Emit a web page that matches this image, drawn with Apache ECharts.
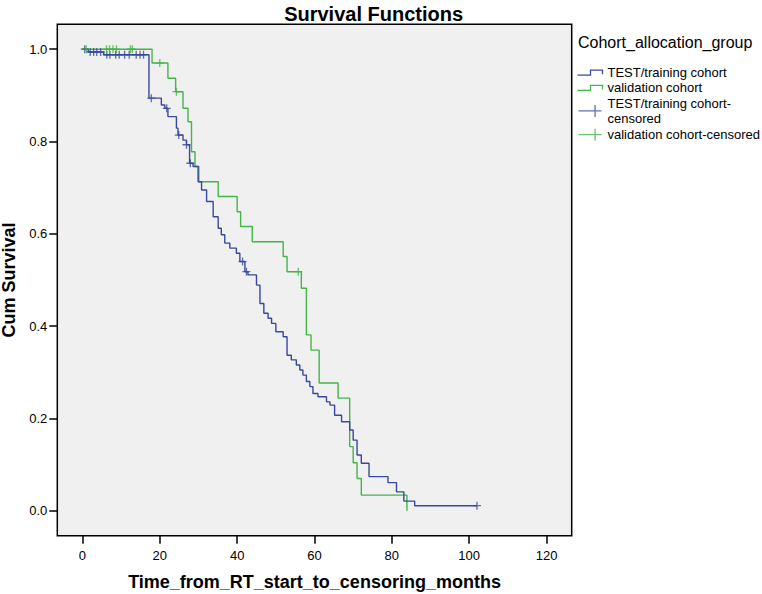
<!DOCTYPE html>
<html><head><meta charset="utf-8">
<script src="https://cdn.jsdelivr.net/npm/echarts@6/dist/echarts.min.js"></script>
<style>html,body{margin:0;padding:0;background:#fff}#c{width:762px;height:594px}</style>
</head><body><div id="c"></div>
<script>
// ---- data ----
const chartTitle = 'Survival Functions';
const legendTitle = 'Cohort_allocation_group';
const seriesNames = ['TEST/training cohort', 'validation cohort', 'TEST/training cohort-censored', 'validation cohort-censored'];
const xTicks = [0, 20, 40, 60, 80, 100, 120];
const yTicks = [0.0, 0.2, 0.4, 0.6, 0.8, 1.0];

const trainTimes = [0, 1.5, 5.5, 17.2, 20.4, 21.3, 22.1, 24.3, 24.7, 26.0, 26.9, 27.7, 28.6, 29.9, 30.8, 32.1, 33.8, 35.1, 35.9, 36.8, 38.1, 39.8, 40.7, 42.0, 42.8, 45.0, 45.9, 46.9, 48.0, 48.9, 50.0, 51.9, 52.9, 54.0, 55.3, 56.2, 57.0, 57.9, 58.8, 59.6, 60.9, 63.1, 64.0, 65.2, 67.0, 69.1, 70.0, 71.0, 72.1, 74.1, 79.0, 81.2, 83.1, 85.9, 102];
const trainSurv  = [1.0, 0.994, 0.988, 0.894, 0.879, 0.872, 0.854, 0.829, 0.814, 0.803, 0.793, 0.753, 0.746, 0.713, 0.695, 0.670, 0.637, 0.612, 0.598, 0.580, 0.569, 0.558, 0.540, 0.518, 0.511, 0.489, 0.449, 0.428, 0.417, 0.406, 0.388, 0.377, 0.337, 0.327, 0.316, 0.305, 0.294, 0.280, 0.269, 0.254, 0.247, 0.236, 0.229, 0.207, 0.193, 0.175, 0.153, 0.121, 0.103, 0.074, 0.061, 0.041, 0.021, 0.011, 0.011];

const validTimes = [0, 18.0, 22.1, 24.1, 26.0, 27.3, 28.2, 29.1, 30.1, 35.1, 40.0, 40.9, 43.9, 51.9, 52.9, 56.6, 57.9, 59.1, 61.2, 66.1, 69.1, 70.0, 71.0, 72.1, 83.9];
const validSurv  = [1.0, 0.970, 0.937, 0.908, 0.872, 0.843, 0.778, 0.746, 0.713, 0.681, 0.648, 0.616, 0.583, 0.551, 0.518, 0.482, 0.381, 0.348, 0.277, 0.244, 0.139, 0.104, 0.070, 0.034, 0.0];

const trainCensTimes = [0.6, 2.0, 2.9, 3.7, 4.7, 6.3, 7.1, 8.6, 9.5, 10.9, 12.1, 13.9, 14.9, 15.8, 17.8, 21.8, 24.9, 26.9, 27.9, 41.4, 42.4, 102];
const validCensTimes = [1.0, 6.2, 7.0, 7.9, 8.8, 12.4, 12.9, 20.0, 24.3, 55.8];

// ---- helpers ----
function survAt(times, surv, t) {
  let s = surv[0];
  for (let i = 0; i < times.length; i++) { if (times[i] <= t) s = surv[i]; }
  return s;
}
const pairs = (a, b) => a.map((v, i) => [v, b[i]]);
const BLUE = '#38499C', GREEN = '#45B449';
const FONT = "'Liberation Sans', Arial, sans-serif";
const stepIcon = 'path://M0,5L13,5L13,0L25,0L25,4';
const crossIcon = 'path://M0,6.5L25,6.5M18,0L18,13';
const crossSym = 'path://M0,5L10,5M5,0L5,10';

const chart = echarts.init(document.getElementById('c'), null, {renderer: 'svg'});
const option = {
  animation: false,
  backgroundColor: '#fff',
  textStyle: {fontFamily: FONT, color: '#000'},
  graphic: [
    {type: 'text', x: 373.6, y: 14, style: {text: chartTitle, align: 'center', verticalAlign: 'middle', font: "bold 20px 'Liberation Sans', Arial, sans-serif", fill: '#000'}},
    {type: 'text', x: 578, y: 42, style: {text: legendTitle, align: 'left', verticalAlign: 'middle', font: "16px 'Liberation Sans', Arial, sans-serif", fill: '#000'}}
  ],
  grid: {left: 57.3, right: 190.3, top: 24.3, bottom: 58.3, show: true, containLabel: false, outerBoundsMode: 'none',
         backgroundColor: '#F0F0F0', borderColor: '#000', borderWidth: 1.5},
  legend: {
    orient: 'vertical', left: 570, top: 60, itemWidth: 25, itemHeight: 12, itemGap: 0,
    textStyle: {fontSize: 13, color: '#000', lineHeight: 15.3, fontFamily: FONT},
    formatter: n => n === seriesNames[2] ? 'TEST/training cohort-\ncensored' : n,
    data: [
      {name: seriesNames[0], icon: stepIcon, itemStyle: {color: 'none', borderColor: BLUE, borderWidth: 1.3}},
      {name: seriesNames[1], icon: stepIcon, itemStyle: {color: 'none', borderColor: GREEN, borderWidth: 1.3}},
      {name: seriesNames[2], icon: crossIcon, itemStyle: {color: 'none', borderColor: BLUE, borderWidth: 1.3}},
      {name: seriesNames[3], icon: crossIcon, itemStyle: {color: 'none', borderColor: GREEN, borderWidth: 1.3}}
    ]
  },
  xAxis: {
    type: 'value', min: -6.5, max: 126.5,
    splitLine: {show: false}, axisLine: {show: false, onZero: false},
    axisTick: {show: true, customValues: xTicks, length: 8, inside: false, lineStyle: {color: '#000', width: 1.5}},
    axisLabel: {customValues: xTicks, margin: 13, fontSize: 13, color: '#000'},
    name: 'Time_from_RT_start_to_censoring_months', nameLocation: 'middle', nameGap: 37,
    nameTextStyle: {fontSize: 18, fontWeight: 'bold', color: '#000'}
  },
  yAxis: {
    type: 'value', min: -0.054, max: 1.054,
    splitLine: {show: false}, axisLine: {show: false, onZero: false},
    axisTick: {show: true, customValues: yTicks, length: 8, inside: false, lineStyle: {color: '#000', width: 1.5}},
    axisLabel: {customValues: yTicks, margin: 10, fontSize: 13, color: '#000', formatter: v => v.toFixed(1)},
    name: 'Cum Survival', nameLocation: 'middle', nameGap: 37, nameRotate: 90,
    nameTextStyle: {fontSize: 18, fontWeight: 'bold', color: '#000'}
  },
  series: [
    {name: seriesNames[0], type: 'line', step: 'end', data: pairs(trainTimes, trainSurv), symbol: 'none', showSymbol: false,
     lineStyle: {color: BLUE, width: 1.4}, itemStyle: {color: BLUE}, z: 3},
    {name: seriesNames[1], type: 'line', step: 'end', data: pairs(validTimes, validSurv), symbol: 'none', showSymbol: false,
     lineStyle: {color: GREEN, width: 1.4}, itemStyle: {color: GREEN}, z: 2},
    {name: seriesNames[2], type: 'scatter', data: trainCensTimes.map(t => [t, survAt(trainTimes, trainSurv, t)]),
     symbol: crossSym, symbolSize: 8, itemStyle: {color: 'none', borderColor: BLUE, borderWidth: 1.3}, z: 4},
    {name: seriesNames[3], type: 'scatter', data: validCensTimes.map(t => [t, survAt(validTimes, validSurv, t)]),
     symbol: crossSym, symbolSize: 8, itemStyle: {color: 'none', borderColor: GREEN, borderWidth: 1.3}, z: 4}
  ]
};
chart.setOption(option);
</script></body></html>
